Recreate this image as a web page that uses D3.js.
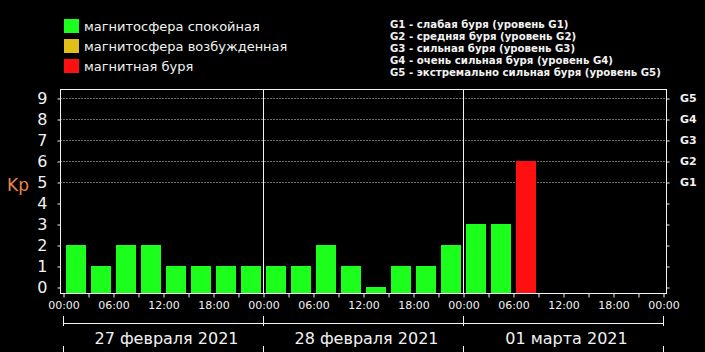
<!DOCTYPE html>
<html><head><meta charset="utf-8">
<script src="https://cdn.jsdelivr.net/npm/d3@7"></script>
<style>html,body{margin:0;padding:0;background:#000;}svg{display:block;}</style>
</head><body>
<script>
// ---- data ----
const dayLabels = ["27 февраля 2021", "28 февраля 2021", "01 марта 2021"];
const kpValues = [2,1,2,2,1,1,1,1, 1,1,2,1,0,1,1,2, 3,3,6];
const hourTickLabels = ["00:00","06:00","12:00","18:00"];
const yTicks = [0,1,2,3,4,5,6,7,8,9];
const gLevels = [5,6,7,8,9];
const gLabels = ["G1","G2","G3","G4","G5"];
const legendLabels = ["магнитосфера спокойная","магнитосфера возбужденная","магнитная буря"];
const legendColors = ["#1cff1c","#e0c018","#ff1010"];
const gDescriptions = [
  "G1 - слабая буря (уровень G1)",
  "G2 - средняя буря (уровень G2)",
  "G3 - сильная буря (уровень G3)",
  "G4 - очень сильная буря (уровень G4)",
  "G5 - экстремально сильная буря (уровень G5)"
];

const W = 705, H = 352;
const svg = d3.select("body").append("svg").attr("width", W).attr("height", H)
  .style("background", "#000");

const frame = {left: 60.5, right: 666.5, top: 89.5, bottom: 293.5};
const x = d3.scaleLinear().domain([0, 72]).range([63.5, 663.5]);
const y = d3.scaleLinear().domain([0, 9]).range([287.5, 98.5]);
const font = "DejaVu Sans, Verdana, sans-serif";
const fg = "#f2f2f2";

function colorFor(v){ return v >= 5 ? legendColors[2] : (v >= 4 ? legendColors[1] : legendColors[0]); }

// dotted gridlines
svg.append("g").selectAll("line").data(gLevels).join("line")
  .attr("x1", frame.left).attr("x2", frame.right)
  .attr("y1", d => y(d)).attr("y2", d => y(d))
  .attr("stroke", "#ddd").attr("stroke-width", 1).attr("stroke-dasharray", "1,2");

// bars
svg.append("g").selectAll("rect").data(kpValues).join("rect")
  .attr("x", (d,i) => x(i*3) + 2.5)
  .attr("width", (d,i) => x(i*3+3) - x(i*3) - 5)
  .attr("y", d => y(d) - 0.5)
  .attr("height", d => frame.bottom - 0.5 - (y(d) - 0.5))
  .attr("fill", d => colorFor(d));

// day separators
svg.append("g").selectAll("line").data([24,48]).join("line")
  .attr("x1", d => x(d)).attr("x2", d => x(d))
  .attr("y1", frame.top).attr("y2", frame.bottom)
  .attr("stroke", fg).attr("stroke-width", 1);

// frame
svg.append("rect").attr("x", frame.left).attr("y", frame.top)
  .attr("width", frame.right - frame.left).attr("height", frame.bottom - frame.top)
  .attr("fill", "none").attr("stroke", fg).attr("stroke-width", 1);

// x axis
const hours = d3.range(0, 73, 3);
const xAxis = d3.axisBottom(x).tickValues(hours).tickSize(4).tickPadding(4)
  .tickFormat(d => d % 6 === 0 ? hourTickLabels[(d % 24) / 6] : "");
const gx = svg.append("g").attr("transform", `translate(0,${frame.bottom})`).call(xAxis);
gx.select(".domain").remove();
gx.selectAll(".tick line").attr("stroke", fg);
gx.selectAll(".tick text").attr("fill", fg).style("font-family", font).style("font-size", "11px");

// left y axis
const yAxisL = d3.axisLeft(y).tickValues(yTicks).tickSize(3).tickPadding(10).tickFormat(d3.format("d"));
const gy = svg.append("g").attr("transform", `translate(${frame.left},0)`).call(yAxisL);
gy.select(".domain").remove();
gy.selectAll(".tick line").attr("stroke", fg);
gy.selectAll(".tick text").attr("fill", fg).style("font-family", font).style("font-size", "16px");

// right y axis
const yAxisR = d3.axisRight(y).tickValues(yTicks).tickSize(3).tickFormat("");
const gyr = svg.append("g").attr("transform", `translate(${frame.right},0)`).call(yAxisR);
gyr.select(".domain").remove();
gyr.selectAll(".tick line").attr("stroke", fg);

// G labels
svg.append("g").selectAll("text").data(gLevels).join("text")
  .attr("x", 680).attr("y", d => y(d)).attr("dy", "0.36em")
  .attr("fill", fg).style("font-family", font).style("font-size", "11px").style("font-weight", "bold")
  .text((d,i) => gLabels[i]);

// Kp label
svg.append("text").attr("x", 7).attr("y", 191).attr("fill", "#e8874a")
  .style("font-family", font).style("font-size", "17px").text("Kp");

// day bracket
const bracketY = 323.5;
svg.append("line").attr("x1", x(0)).attr("x2", x(72)).attr("y1", bracketY).attr("y2", bracketY)
  .attr("stroke", fg);
const sepHours = [0,24,48,72];
svg.append("g").selectAll("line").data(sepHours).join("line")
  .attr("x1", d => x(d)).attr("x2", d => x(d)).attr("y1", 316).attr("y2", 326)
  .attr("stroke", fg);
svg.append("g").selectAll("line").data(sepHours).join("line")
  .attr("x1", d => x(d)).attr("x2", d => x(d)).attr("y1", 346).attr("y2", 352)
  .attr("stroke", fg);
svg.append("g").selectAll("text").data(dayLabels).join("text")
  .attr("x", (d,i) => x(i*24 + 12) + 3).attr("y", 344).attr("text-anchor", "middle")
  .attr("fill", fg).style("font-family", font).style("font-size", "16px").text(d => d);

// legend left
const lg = svg.append("g");
lg.selectAll("rect").data(legendLabels).join("rect")
  .attr("x", 64).attr("y", (d,i) => 19 + i*20).attr("width", 15).attr("height", 14)
  .attr("fill", (d,i) => legendColors[i]);
lg.selectAll("text").data(legendLabels).join("text")
  .attr("x", 84).attr("y", (d,i) => 26 + i*20).attr("dy", "0.36em")
  .attr("fill", fg).style("font-family", font).style("font-size", "13px").text(d => d);

// legend right
svg.append("g").selectAll("text").data(gDescriptions).join("text")
  .attr("x", 390).attr("y", (d,i) => 24 + i*12).attr("dy", "0.36em")
  .attr("fill", fg).style("font-family", font).style("font-size", "10.2px").style("font-weight", "bold")
  .text(d => d);
</script>
</body></html>
